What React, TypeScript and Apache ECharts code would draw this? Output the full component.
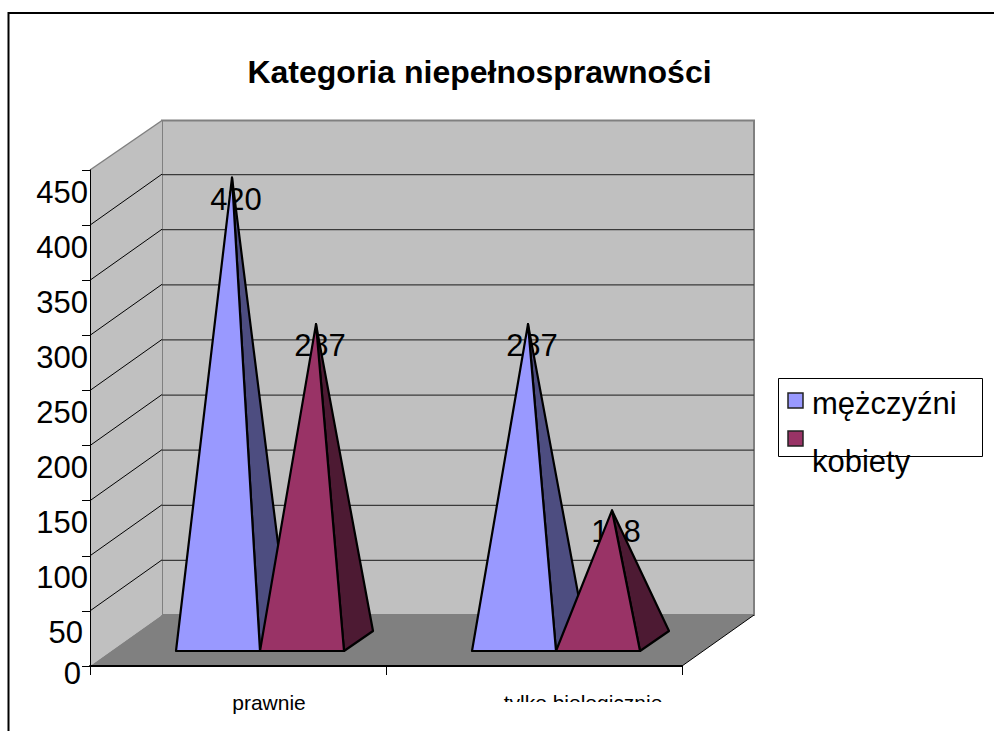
import React, { useEffect, useRef } from "react";
import * as echarts from "echarts";

const TITLE = "Kategoria niepełnosprawności";
const categories = ["prawnie", "tylko biologicznie"];
const seriesNames = ["mężczyźni", "kobiety"];
const menValues = [420, 287];
const womenValues = [287, 118];
const yTicks = [0, 50, 100, 150, 200, 250, 300, 350, 400, 450];
const FONT = "Liberation Sans";

const DEPTH_X = 72;
const DEPTH_Y = 51;

function renderWalls(params: any, api: any) {
  const v = api.value(1);
  const band = api.size([1, 0])[0];
  const bottom = api.coord([0, 0]);
  const left = bottom[0] - band / 2;
  const right = left + band * categories.length;
  const y0 = bottom[1];
  const top = api.coord([0, yTicks[yTicks.length - 1]])[1];
  const y = api.coord([0, v])[1];
  const children: any[] = [];
  const grey = "#808080";
  const backTop = top - DEPTH_Y + 1.5;
  if (v === 0) {
    children.push(
      { type: "polygon", shape: { points: [[left + DEPTH_X, backTop], [right + DEPTH_X, backTop], [right + DEPTH_X, y0 - DEPTH_Y], [left + DEPTH_X, y0 - DEPTH_Y]] }, style: { fill: "#c0c0c0", stroke: grey, lineWidth: 2 } },
      { type: "polygon", shape: { points: [[left, top], [left + DEPTH_X, backTop], [left + DEPTH_X, y0 - DEPTH_Y], [left, y0]] }, style: { fill: "#c0c0c0" } },
      { type: "line", shape: { x1: left, y1: top, x2: left + DEPTH_X, y2: backTop }, style: { stroke: grey, lineWidth: 1.5 } },
      { type: "polygon", shape: { points: [[left, y0], [right, y0], [right + DEPTH_X, y0 - DEPTH_Y], [left + DEPTH_X, y0 - DEPTH_Y]] }, style: { fill: "#808080" } },
      { type: "line", shape: { x1: right, y1: y0, x2: right + DEPTH_X, y2: y0 - DEPTH_Y }, style: { stroke: "#000", lineWidth: 1 } }
    );
  } else if (v < yTicks[yTicks.length - 1]) {
    children.push(
      { type: "line", shape: { x1: left + DEPTH_X, y1: y - DEPTH_Y + 0.5, x2: right + DEPTH_X, y2: y - DEPTH_Y + 0.5 }, style: { stroke: "#3a3a3a", lineWidth: 1.3 } }
    );
  }
  if (v > 0 && v < yTicks[yTicks.length - 1]) {
    children.push({ type: "line", shape: { x1: left, y1: y, x2: left + DEPTH_X, y2: y - DEPTH_Y }, style: { stroke: "#000", lineWidth: 1 } });
  }
  return { type: "group", children };
}

function makePyramid(seriesIndex: number, front: string, side: string) {
  return function renderItem(params: any, api: any) {
    const cat = api.value(0);
    const val = api.value(1);
    const band = api.size([1, 0])[0];
    const w = band * 0.2838;
    const c = api.coord([cat, 0]);
    const p = api.coord([cat, val]);
    const cx = c[0] + DEPTH_X / 2 + (seriesIndex - 0.5) * w;
    const floorY = c[1] - DEPTH_Y / 2;
    const apexX = cx;
    const apexY = p[1] - DEPTH_Y / 2;
    const x0 = cx - 14 - w / 2;
    const x1 = cx - 14 + w / 2;
    const by = floorY + 10.5;
    return {
      type: "group",
      children: [
        { type: "text", style: { text: String(val), x: apexX + 4, y: apexY + 21.5, fill: "#000", font: `31px "${FONT}"`, align: "center", verticalAlign: "middle", textAlign: "center", textVerticalAlign: "middle" } },
        { type: "polygon", shape: { points: [[x1, by], [x1 + 29, by - 20], [apexX, apexY]] }, style: { fill: side, stroke: "#000", lineWidth: 2.2, lineJoin: "round" } },
        { type: "polygon", shape: { points: [[x0, by], [x1, by], [apexX, apexY]] }, style: { fill: front, stroke: "#000", lineWidth: 2.2, lineJoin: "round" } },
      ],
    };
  };
}

export default function App() {
  const ref = useRef<HTMLDivElement>(null);
  useEffect(() => {
    const chart = echarts.init(ref.current!, null, { renderer: "svg" });
    chart.setOption({
      animation: false,
      backgroundColor: "#ffffff",
      title: {
        text: TITLE,
        left: 474.5,
        top: 51,
        textAlign: "center",
        textStyle: { fontFamily: FONT, fontSize: 32, fontWeight: "bold", color: "#000" },
      },
      grid: { left: 90, right: 312, top: 170, bottom: 65 },
      xAxis: {
        type: "category",
        z: 2,
        data: categories,
        axisLine: { lineStyle: { color: "#000", width: 2 } },
        axisTick: { show: true, length: 9, lineStyle: { color: "#000", width: 1 } },
        axisLabel: {
          interval: 0,
          margin: 26,
          formatter: (value: string, index: number) => `{c${index}|${value}}`,
          rich: {
            c0: { fontFamily: FONT, fontSize: 21, color: "#000", padding: [0, 0, 0, 62] },
            c1: { fontFamily: FONT, fontSize: 21, color: "#000", padding: [0, 0, 0, 98] },
          },
        },
      },
      yAxis: {
        type: "value",
        z: 2,
        min: 0,
        max: 450,
        interval: 50,
        splitLine: { show: false },
        axisLine: { show: true, lineStyle: { color: "#000", width: 1 } },
        axisTick: { show: true, length: 8, lineStyle: { color: "#000", width: 1 } },
        axisLabel: {
          margin: 2,
          formatter: (v: number) => (v === 0 ? `{z|${v}}` : v === 50 ? `{f|${v}}` : `{a|${v}}`),
          rich: {
            a: { fontFamily: FONT, fontSize: 31, color: "#000", padding: [44, 0, 0, 0] },
            f: { fontFamily: FONT, fontSize: 31, color: "#000", padding: [44, 5, 0, 0] },
            z: { fontFamily: FONT, fontSize: 31, color: "#000", padding: [14, 7, 0, 0] },
          },
        },
      },
      series: [
        {
          type: "custom",
          name: "walls",
          z: 1,
          silent: true,
          renderItem: renderWalls,
          encode: { x: 0, y: 1 },
          data: yTicks.map((v) => [0, v]),
        },
        {
          type: "custom",
          name: seriesNames[0],
          z: 3,
          renderItem: makePyramid(0, "#9999ff", "#4d4d80"),
          encode: { x: 0, y: 1 },
          data: menValues.map((v, i) => [i, v]),
        },
        {
          type: "custom",
          name: seriesNames[1],
          z: 4,
          renderItem: makePyramid(1, "#993366", "#4d1a33"),
          encode: { x: 0, y: 1 },
          data: womenValues.map((v, i) => [i, v]),
        },
      ],
      graphic: [
        { type: "line", z: 100, shape: { x1: 8.5, y1: 13, x2: 994, y2: 13 }, style: { stroke: "#000", lineWidth: 2 } },
        { type: "line", z: 100, shape: { x1: 8.5, y1: 12, x2: 8.5, y2: 731 }, style: { stroke: "#000", lineWidth: 2 } },
        { type: "rect", z: 100, shape: { x: 480, y: 702, width: 200, height: 20 }, style: { fill: "#fff" } },
        { type: "rect", z: 100, shape: { x: 778.5, y: 378.5, width: 204, height: 78 }, style: { fill: "#fff", stroke: "#000", lineWidth: 1 } },
        { type: "rect", z: 101, shape: { x: 788, y: 393, width: 15, height: 15 }, style: { fill: "#9999ff", stroke: "#222", lineWidth: 1.5 } },
        { type: "rect", z: 101, shape: { x: 788, y: 431, width: 15, height: 15 }, style: { fill: "#993366", stroke: "#222", lineWidth: 1.5 } },
        { type: "text", z: 102, x: 812, y: 403, style: { text: seriesNames[0], fill: "#000", font: `31px "${FONT}"`, textAlign: "left", textVerticalAlign: "middle" } },
        { type: "text", z: 102, x: 812, y: 461, style: { text: seriesNames[1], fill: "#000", font: `31px "${FONT}"`, textAlign: "left", textVerticalAlign: "middle" } },
      ],
    });
    return () => chart.dispose();
  }, []);
  return <div ref={ref} style={{ position: "fixed", left: 0, top: 0, width: 994, height: 731 }} />;
}
